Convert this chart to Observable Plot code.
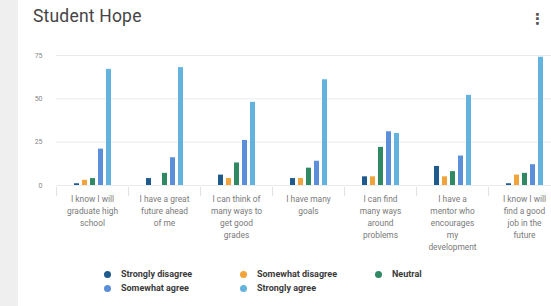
<!DOCTYPE html>
<html>
<head>
<meta charset="utf-8">
<script src="https://cdn.jsdelivr.net/npm/d3@7"></script>
<script src="https://cdn.jsdelivr.net/npm/@observablehq/plot@0.6"></script>
<style>
  html, body { margin: 0; padding: 0; }
  body { width: 551px; height: 306px; background: #efefef; position: relative; overflow: hidden; font-family: Roboto, "Open Sans", sans-serif; }
  #card { position: absolute; left: 18px; top: 0; width: 533px; height: 306px; background: #fff; }
  #title { position: absolute; left: 33px; top: 6px; font-size: 17.5px; color: #454545; letter-spacing: 0.2px; }
  #menu { position: absolute; left: 530px; top: 10px; font-size: 15px; font-weight: bold; color: #555; font-family: "DejaVu Sans", sans-serif; }
  #chart { position: absolute; left: 0; top: 45px; }
  #legend { position: absolute; left: 104px; top: 267px; display: grid; grid-template-columns: 136px 135px auto; grid-auto-rows: 14px; }
  .item { display: flex; align-items: center; font-size: 9px; font-weight: bold; color: #3a3a3a; white-space: nowrap; }
  .dot { width: 7px; height: 7px; border-radius: 50%; margin-right: 10px; flex: none; }
</style>
</head>
<body>
<div id="card"></div>
<div id="title">Student Hope</div>
<div id="menu">⋮</div>
<div id="chart"></div>
<div id="legend"></div>
<script>
const categories = [
  "I know I will graduate high school",
  "I have a great future ahead of me",
  "I can think of many ways to get good grades",
  "I have many goals",
  "I can find many ways around problems",
  "I have a mentor who encourages my development",
  "I know I will find a good job in the future"
];
const tickLabels = [
  "I know I will\ngraduate high\nschool",
  "I have a great\nfuture ahead\nof me",
  "I can think of\nmany ways to\nget good\ngrades",
  "I have many\ngoals",
  "I can find\nmany ways\naround\nproblems",
  "I have a\nmentor who\nencourages\nmy\ndevelopment",
  "I know I will\nfind a good\njob in the\nfuture"
];
const series = ["Strongly disagree", "Somewhat disagree", "Neutral", "Somewhat agree", "Strongly agree"];
const colors = ["#1f5a8c", "#f0a43a", "#2f8a63", "#5b8fd9", "#62b3de"];

const stronglyDisagree = [1, 4, 6, 4, 5, 11, 1];
const somewhatDisagree = [3, 0, 4, 4, 5, 5, 6];
const neutral          = [4, 7, 13, 10, 22, 8, 7];
const somewhatAgree    = [21, 16, 26, 14, 31, 17, 12];
const stronglyAgree    = [67, 68, 48, 61, 30, 52, 74];
const yTicks = [0, 25, 50, 75];

const seriesValues = [stronglyDisagree, somewhatDisagree, neutral, somewhatAgree, stronglyAgree];
const data = [];
categories.forEach((c, i) => {
  series.forEach((s, j) => data.push({category: c, series: s, value: seriesValues[j][i]}));
});
const labelMap = new Map(categories.map((c, i) => [c, tickLabels[i]]));

const chart = Plot.plot({
  width: 551,
  height: 210,
  marginTop: 10,
  marginBottom: 70,
  marginLeft: 56,
  marginRight: -9,
  style: {fontFamily: "Roboto, 'Open Sans', sans-serif", background: "transparent", overflow: "visible"},
  fx: {domain: categories, padding: 0},
  x: {domain: series, paddingInner: 0.4, paddingOuter: 1.9, axis: null},
  y: {domain: [0, 75], axis: null},
  color: {domain: series, range: colors},
  marks: [
    Plot.gridY({ticks: yTicks, stroke: "#ebebeb", strokeOpacity: 1}),
    Plot.frame({anchor: "left", stroke: "#e2e2e2", insetTop: 132, insetBottom: -10}),
    Plot.barY(data, {fx: "category", x: "series", y: "value", fill: "series"}),
    Plot.axisY({ticks: yTicks, tickSize: 0, tickPadding: 14, fontSize: 7, fill: "#888", label: null}),
    Plot.axisFx({anchor: "bottom", tickSize: 0, tickPadding: 8, lineHeight: 1.42, fontSize: 8.4, fill: "#7a7a7a", label: null, tickFormat: d => labelMap.get(d)})
  ]
});
document.getElementById("chart").appendChild(chart);

const legend = document.getElementById("legend");
series.forEach((s, i) => {
  const item = document.createElement("div");
  item.className = "item";
  const dot = document.createElement("span");
  dot.className = "dot";
  dot.style.background = colors[i];
  item.appendChild(dot);
  item.appendChild(document.createTextNode(s));
  legend.appendChild(item);
});
</script>
</body>
</html>
